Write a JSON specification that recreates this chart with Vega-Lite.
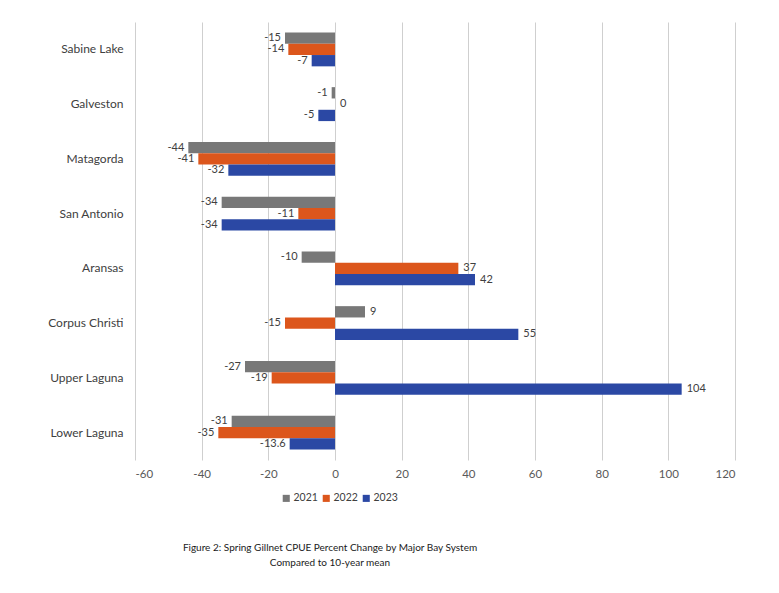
{
  "$schema": "https://vega.github.io/schema/vega-lite/v6.json",
  "width": 600,
  "height": 438,
  "autosize": {"type": "none"},
  "padding": {"left": 135, "top": 22, "right": 44, "bottom": 133},
  "background": "white",
  "config": {
    "font": "Lato",
    "view": {"stroke": null},
    "locale": {"number": {"decimal": ".", "thousands": ",", "grouping": [3], "currency": ["$", ""], "minus": "-"}}
  },
  "title": {
    "text": ["Figure 2: Spring Gillnet CPUE Percent Change by Major Bay System", "Compared to 10-year mean"],
    "orient": "bottom",
    "anchor": "middle",
    "dx": -105,
    "offset": 39,
    "fontSize": 10,
    "fontWeight": "normal",
    "color": "#1a1a1a",
    "lineHeight": 15
  },
  "data": {
    "values": [
      {"region": "Sabine Lake", "year": "2021", "value": -15},
      {"region": "Sabine Lake", "year": "2022", "value": -14},
      {"region": "Sabine Lake", "year": "2023", "value": -7},
      {"region": "Galveston", "year": "2021", "value": -1},
      {"region": "Galveston", "year": "2022", "value": 0},
      {"region": "Galveston", "year": "2023", "value": -5},
      {"region": "Matagorda", "year": "2021", "value": -44},
      {"region": "Matagorda", "year": "2022", "value": -41},
      {"region": "Matagorda", "year": "2023", "value": -32},
      {"region": "San Antonio", "year": "2021", "value": -34},
      {"region": "San Antonio", "year": "2022", "value": -11},
      {"region": "San Antonio", "year": "2023", "value": -34},
      {"region": "Aransas", "year": "2021", "value": -10},
      {"region": "Aransas", "year": "2022", "value": 37},
      {"region": "Aransas", "year": "2023", "value": 42},
      {"region": "Corpus Christi", "year": "2021", "value": 9},
      {"region": "Corpus Christi", "year": "2022", "value": -15},
      {"region": "Corpus Christi", "year": "2023", "value": 55},
      {"region": "Upper Laguna", "year": "2021", "value": -27},
      {"region": "Upper Laguna", "year": "2022", "value": -19},
      {"region": "Upper Laguna", "year": "2023", "value": 104},
      {"region": "Lower Laguna", "year": "2021", "value": -31},
      {"region": "Lower Laguna", "year": "2022", "value": -35},
      {"region": "Lower Laguna", "year": "2023", "value": -13.6}
    ]
  },
  "encoding": {
    "y": {
      "field": "region",
      "type": "nominal",
      "sort": ["Sabine Lake", "Galveston", "Matagorda", "San Antonio", "Aransas", "Corpus Christi", "Upper Laguna", "Lower Laguna"],
      "scale": {"paddingInner": 0.38, "paddingOuter": 0.19},
      "axis": {
        "title": null,
        "domain": false,
        "ticks": false,
        "labelPadding": 12,
        "labelFontSize": 12,
        "labelColor": "#404040",
        "grid": false
      }
    },
    "yOffset": {"field": "year", "type": "nominal", "sort": ["2021", "2022", "2023"], "scale": {"paddingInner": 0}},
    "x": {
      "field": "value",
      "type": "quantitative",
      "scale": {"domain": [-60, 120], "nice": false, "zero": false},
      "axis": {
        "title": null,
        "values": [-60, -40, -20, 0, 20, 40, 60, 80, 100, 120],
        "domain": false,
        "ticks": false,
        "grid": true,
        "gridColor": "#cfcfcf",
        "gridWidth": 1,
        "labelPadding": 8,
        "labelFontSize": 11.5,
        "labelColor": "#595959"
      }
    }
  },
  "layer": [
    {
      "mark": {"type": "bar"},
      "encoding": {
        "color": {
          "field": "year",
          "type": "nominal",
          "scale": {"domain": ["2021", "2022", "2023"], "range": ["#787878", "#dc561c", "#2b48a4"]},
          "legend": {
            "title": null,
            "orient": "none",
            "direction": "horizontal",
            "legendX": 146,
            "legendY": 471,
            "symbolType": "square",
            "symbolSize": 50,
            "symbolStrokeWidth": 0,
            "labelFontSize": 10.5,
            "labelColor": "#404040",
            "labelOffset": 2,
            "columnPadding": 3
          }
        }
      }
    },
    {
      "transform": [{"filter": "datum.value < 0"}],
      "mark": {"type": "text", "align": "right", "baseline": "middle", "dx": -4, "fontSize": 11, "color": "#404040"},
      "encoding": {"text": {"field": "value", "type": "quantitative"}}
    },
    {
      "transform": [{"filter": "datum.value >= 0"}],
      "mark": {"type": "text", "align": "left", "baseline": "middle", "dx": 5, "fontSize": 11, "color": "#404040"},
      "encoding": {"text": {"field": "value", "type": "quantitative"}}
    }
  ]
}
